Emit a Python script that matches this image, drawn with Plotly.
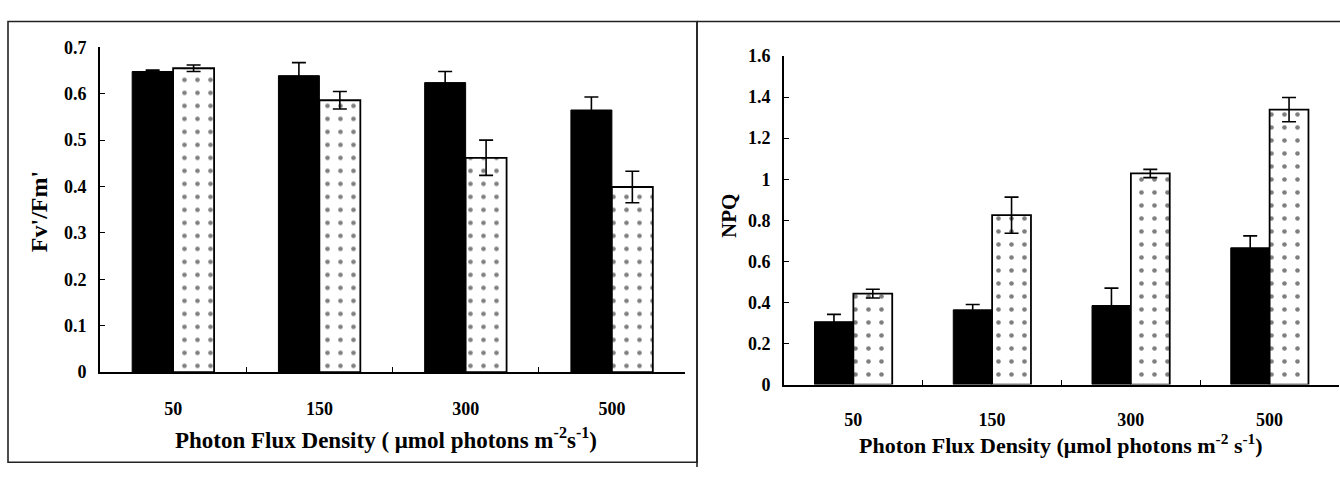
import plotly.graph_objects as go

categories = ["50", "150", "300", "500"]

fv_black = [0.648, 0.639, 0.624, 0.565]
fv_black_err = [0.003, 0.028, 0.024, 0.028]
fv_dot = [0.655, 0.586, 0.462, 0.399]
fv_dot_err = [0.007, 0.019, 0.038, 0.034]

npq_black = [0.306, 0.364, 0.385, 0.666]
npq_black_err = [0.036, 0.026, 0.085, 0.058]
npq_dot = [0.443, 0.825, 1.028, 1.339]
npq_dot_err = [0.021, 0.088, 0.020, 0.059]

W, H = 1340, 477
FONT = "Liberation Serif, Times New Roman, serif"

def px(x):
    return x / W

def py(y):
    return 1 - y / H

fig = go.Figure()

def add_pair(black, black_err, dot, dot_err, xa, ya):
    fig.add_trace(go.Bar(
        x=categories, y=black, xaxis=xa, yaxis=ya,
        marker=dict(color="black", line=dict(color="black", width=1)),
        error_y=dict(type="data", array=black_err, color="black", thickness=1.6, width=7),
        showlegend=False,
    ))
    fig.add_trace(go.Bar(
        x=categories, y=dot, xaxis=xa, yaxis=ya,
        marker=dict(color="white", line=dict(color="black", width=1.8),
                    pattern=dict(shape=".", fgcolor="black", bgcolor="white", size=13, solidity=0.1)),
        error_y=dict(type="data", array=dot_err, color="black", thickness=1.6, width=7),
        showlegend=False,
    ))

add_pair(fv_black, fv_black_err, fv_dot, fv_dot_err, "x", "y")
add_pair(npq_black, npq_black_err, npq_dot, npq_dot_err, "x2", "y2")

axis_common = dict(
    showline=True, linecolor="black", linewidth=1.6,
    ticks="inside", ticklen=5, tickwidth=1.4, tickcolor="black",
    showgrid=False, zeroline=False,
    tickfont=dict(family=FONT, size=18, color="black", weight="bold"),
)

fig.update_layout(
    width=W, height=H,
    margin=dict(l=0, r=0, t=0, b=0),
    paper_bgcolor="white", plot_bgcolor="white",
    font=dict(family=FONT, color="black"),
    barmode="group", bargap=0.44, bargroupgap=0,
    xaxis=dict(domain=[px(100), px(685)], anchor="y", type="category",
               tickson="boundaries", ticklabelstandoff=19, **axis_common),
    yaxis=dict(domain=[py(378), py(39)], anchor="x", range=[0, 0.7],
               tickvals=[0, 0.1, 0.2, 0.3, 0.4, 0.5, 0.6, 0.7],
               ticktext=["0", "0.1", "0.2", "0.3", "0.4", "0.5", "0.6", "0.7"],
               ticklabelstandoff=8, **axis_common),
    xaxis2=dict(domain=[px(784), px(1339)], anchor="y2", type="category",
                tickson="boundaries", ticklabelstandoff=18, **axis_common),
    yaxis2=dict(domain=[py(391), py(48)], anchor="x2", range=[0, 1.6],
                tickvals=[0, 0.2, 0.4, 0.6, 0.8, 1.0, 1.2, 1.4, 1.6],
                ticktext=["0", "0.2", "0.4", "0.6", "0.8", "1", "1.2", "1.4", "1.6"],
                ticklabelstandoff=8, **axis_common),
)

fig.add_annotation(x=px(386), y=py(447), xref="paper", yref="paper", showarrow=False,
                   text="Photon Flux Density ( μmol photons m<sup>-2</sup>s<sup>-1</sup>)",
                   font=dict(family=FONT, size=23, color="black", weight="bold"),
                   xanchor="center", yanchor="middle")
fig.add_annotation(x=px(1061), y=py(453), xref="paper", yref="paper", showarrow=False,
                   text="Photon Flux Density (μmol photons m<sup>-2</sup> s<sup>-1</sup>)",
                   font=dict(family=FONT, size=22, color="black", weight="bold"),
                   xanchor="center", yanchor="middle")
fig.add_annotation(x=px(39), y=py(211), xref="paper", yref="paper", showarrow=False,
                   text="Fv'/Fm'", textangle=-90,
                   font=dict(family=FONT, size=24, color="black", weight="bold"),
                   xanchor="center", yanchor="middle")
fig.add_annotation(x=px(729), y=py(215), xref="paper", yref="paper", showarrow=False,
                   text="NPQ", textangle=-90,
                   font=dict(family=FONT, size=21, color="black", weight="bold"),
                   xanchor="center", yanchor="middle")

# panel frames
fig.add_shape(type="rect", xref="paper", yref="paper",
              x0=px(8), x1=px(697), y0=py(472), y1=py(12),
              line=dict(color="#222", width=1.6), fillcolor="rgba(0,0,0,0)", layer="below")
fig.add_shape(type="line", xref="paper", yref="paper",
              x0=px(697), x1=px(1340), y0=py(12), y1=py(12),
              line=dict(color="#222", width=1.6))
fig.add_shape(type="line", xref="paper", yref="paper",
              x0=px(697), x1=px(697), y0=py(12), y1=0,
              line=dict(color="#222", width=1.6))

fig.write_html("out.html")
